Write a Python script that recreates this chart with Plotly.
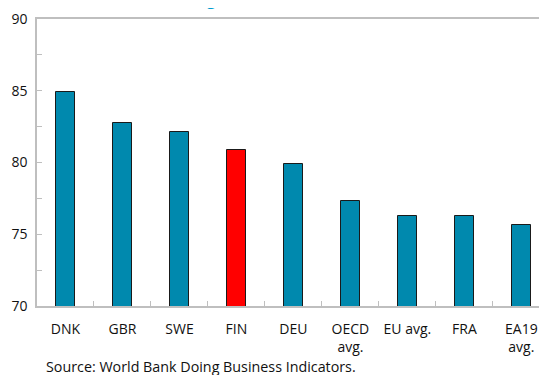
import plotly.graph_objects as go

countries = ["DNK", "GBR", "SWE", "FIN", "DEU", "OECD<br>avg.", "EU avg.", "FRA", "EA19<br>avg."]
scores = [84.9, 82.75, 82.15, 80.85, 79.9, 77.3, 76.25, 76.25, 75.65]
highlight = "FIN"

bar_blue = "#0089AE"
bar_red = "#FF0000"
colors = [bar_red if c == highlight else bar_blue for c in countries]

y_ticks = [70, 72.5, 75, 77.5, 80, 82.5, 85, 87.5, 90]
y_labels = ["70", "", "75", "", "80", "", "85", "", "90"]

font_name = "Open Sans"

fig = go.Figure()
fig.add_trace(go.Bar(
    x=countries, y=scores,
    marker=dict(color=colors, line=dict(color="#1a1a1a", width=1)),
    width=0.34,
))

# page body has an 8px margin, so the figure is sized to fit the window
fig.update_layout(
    width=539, height=367,
    margin=dict(l=29, r=0, t=11, b=69),
    plot_bgcolor="white", paper_bgcolor="white",
    showlegend=False,
    font=dict(family=font_name, size=14, color="#111111"),
    bargap=0,
)
fig.update_xaxes(
    type="category", range=[-0.5, 8.45], automargin=False,
    showline=True, linecolor="#BFBFBF", linewidth=1.5, mirror=True,
    ticks="inside", ticklen=5, tickcolor="#BFBFBF", tickson="boundaries",
    ticklabelstandoff=9,
    showgrid=False,
)
fig.update_yaxes(
    range=[70, 90], automargin=False,
    tickvals=y_ticks, ticktext=y_labels,
    showline=True, linecolor="#BFBFBF", linewidth=1.5,
    ticks="inside", ticklen=5, tickcolor="#BFBFBF",
    ticklabelstandoff=5,
    showgrid=False, zeroline=False,
)

# title is cut off at the top, only descenders show
fig.add_annotation(
    text="<b>Ease of doing business, 2019</b>", xref="paper", yref="paper",
    x=0, y=1.0, xshift=78, yshift=6.8, xanchor="left", yanchor="bottom", showarrow=False,
    font=dict(family=font_name, size=15, color="#009BD0"),
)
fig.add_annotation(
    text="Source: World Bank Doing Business Indicators.", xref="paper", yref="paper",
    x=0.0, y=0, xshift=7, yshift=-72, xanchor="left", yanchor="bottom", showarrow=False,
    font=dict(family=font_name, size=14.3, color="#111111"),
)

fig.write_html("out.html")
